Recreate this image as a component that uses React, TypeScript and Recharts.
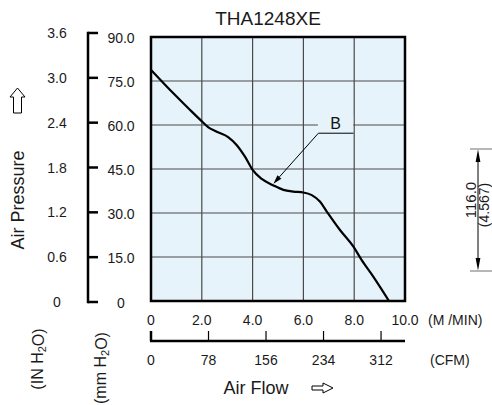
import React from 'react';
import { LineChart, Line, XAxis, YAxis, CartesianGrid, ReferenceArea, ReferenceLine } from 'recharts';

// ---- data ----
const flowMpm = [0, 0.88, 1.54, 2.02, 2.26, 2.59, 3.05, 3.37, 3.7, 4.0, 4.36, 4.82, 5.21, 5.6, 6.0, 6.33, 6.65, 6.92, 7.44, 7.97, 8.29, 8.75, 9.37];
const pressureMm = [78.8, 70.8, 65.1, 61.1, 59.2, 57.7, 55.8, 53.2, 49.2, 44.7, 41.6, 39.4, 37.9, 37.3, 37.0, 36.1, 33.9, 30.5, 24.2, 18.5, 14.0, 8.3, 0];
const mpmTicks = [0, 2, 4, 6, 8, 10];
const cfmTicks = [0, 78, 156, 234, 312];
const mmTicks = [0, 15, 30, 45, 60, 75, 90];
const inTicks = [0, 0.6, 1.2, 1.8, 2.4, 3.0, 3.6];
const CFM_AT_10_MPM = 344.5; // CFM value at the right edge of the plot (10.0 M/MIN)
const title = 'THA1248XE';
const curveLabel = 'B';
const dimValue = '116.0';
const dimInch = '(4.567)';

const data = flowMpm.map((f, i) => ({ flow: f, p: pressureMm[i] }));
const cfmTicksInMpm = cfmTicks.map((c) => (c * 10) / CFM_AT_10_MPM);

// ---- layout ----
const W = 492, H = 405;
const PL = 151, PT = 37, PR = 405, PB = 301;
const MM_AXIS_W = 63;
const BX = PL - MM_AXIS_W;
const M_AXIS_H = 40;
const CFM_Y = PB + M_AXIS_H;
const FONT = "'Liberation Sans', Arial, Helvetica, sans-serif";
const TXT = '#1a1a1a';
const BG = '#e6f3fb';
// the bracket axis and inch labels sit on a slightly taller span than the plot
const BR_TOP = 33, BR_BOT = 302;
const toBracket = (y: number) => BR_TOP + ((y - PT) * (BR_BOT - BR_TOP)) / (PB - PT);

const fmt1 = (v: number) => (v === 0 ? '0' : v.toFixed(1));

const MmTick = (props: any) => {
  const { y, payload } = props;
  const v = payload.value;
  const yb = toBracket(y);
  return (
    <g>
      <line x1={BX} x2={BX + 10} y1={yb} y2={yb} stroke="#000" strokeWidth={2.5} />
      {v === 0 && <line x1={BX} x2={BX} y1={BR_BOT + 1.25} y2={BR_TOP - 1.25} stroke="#000" strokeWidth={2.5} />}
      <text x={121} y={v === 0 ? y + 2 : y + 1} textAnchor="middle" dominantBaseline="central" fontSize={14} fontFamily={FONT} fill={TXT}>
        {fmt1(v)}
      </text>
    </g>
  );
};

const InTick = (props: any) => {
  const { y, payload } = props;
  const v = payload.value;
  return (
    <text x={57} y={toBracket(y)} textAnchor="middle" dominantBaseline="central" fontSize={14} fontFamily={FONT} fill={TXT}>
      {fmt1(v)}
    </text>
  );
};

const MTick = (props: any) => {
  const { x, payload } = props;
  const v = payload.value;
  return (
    <g>
      <text x={x} y={PB + 19} textAnchor="middle" dominantBaseline="central" fontSize={14} fontFamily={FONT} fill={TXT}>
        {fmt1(v)}
      </text>
      {v === 10 && (
        <text x={PR + 23} y={PB + 19} textAnchor="start" dominantBaseline="central" fontSize={14} fontFamily={FONT} fill={TXT}>
          (M /MIN)
        </text>
      )}
    </g>
  );
};

const CfmTick = (props: any) => {
  const { x, payload } = props;
  const cfm = Math.round((payload.value * CFM_AT_10_MPM) / 10);
  return (
    <g>
      {cfm === 0 && <line x1={PL - 1} x2={PR} y1={CFM_Y} y2={CFM_Y} stroke="#000" strokeWidth={2.5} />}
      <line x1={x} x2={x} y1={CFM_Y} y2={CFM_Y - 10} stroke="#000" strokeWidth={cfm === 0 ? 2.5 : 1.2} />
      <text x={x} y={CFM_Y + 19} textAnchor="middle" dominantBaseline="central" fontSize={14} fontFamily={FONT} fill={TXT}>
        {cfm}
      </text>
      {cfm === 312 && (
        <text x={PR + 25} y={CFM_Y + 19} textAnchor="start" dominantBaseline="central" fontSize={14} fontFamily={FONT} fill={TXT}>
          (CFM)
        </text>
      )}
    </g>
  );
};

const FlowLabel = () => (
  <g>
    <text x={256} y={388} textAnchor="middle" dominantBaseline="central" fontSize={18} fontFamily={FONT} fill={TXT}>
      Air Flow
    </text>
    <path d="M312,386 L323,386 L323,383 L333,388 L323,393 L323,390 L312,390 Z" fill="none" stroke="#000" strokeWidth={1} />
  </g>
);

const PressureLabel = () => (
  <g>
    <path d="M17.5,88 L25,97 L21.5,97 L21.5,113 L13.5,113 L13.5,97 L10,97 Z" fill="none" stroke="#000" strokeWidth={1} />
    <text x={17.5} y={200} transform="rotate(-90 17.5 200)" textAnchor="middle" dominantBaseline="central" fontSize={18} fontFamily={FONT} fill={TXT}>
      Air Pressure
    </text>
    <text x={37.5} y={359} transform="rotate(-90 37.5 359)" textAnchor="middle" dominantBaseline="central" fontSize={16} fontFamily={FONT} fill={TXT}>
      (IN H<tspan fontSize={11} dy={4}>2</tspan><tspan dy={-4}>O)</tspan>
    </text>
  </g>
);

const MmLabel = () => (
  <text x={100.5} y={368} transform="rotate(-90 100.5 368)" textAnchor="middle" dominantBaseline="central" fontSize={16} fontFamily={FONT} fill={TXT}>
    (mm H<tspan fontSize={11} dy={4}>2</tspan><tspan dy={-4}>O)</tspan>
  </text>
);

const ArrowLine = (props: any) => {
  const { x1, y1, x2, y2 } = props;
  const dx = x2 - x1, dy = y2 - y1;
  const len = Math.sqrt(dx * dx + dy * dy) || 1;
  const ux = dx / len, uy = dy / len;
  const hl = 9, hw = 2.6;
  const bx = x2 - ux * hl, by = y2 - uy * hl;
  const pts = `${x2},${y2} ${bx - uy * hw},${by + ux * hw} ${bx + uy * hw},${by - ux * hw}`;
  return (
    <g>
      <line x1={x1} y1={y1} x2={bx} y2={by} stroke="#000" strokeWidth={1} />
      <polygon points={pts} fill="#000" />
    </g>
  );
};

export default function App() {
  return (
    <div style={{ position: 'absolute', left: 0, top: 0, width: W, height: H, background: '#fff' }}>
      <LineChart width={W} height={H} data={data} margin={{ top: PT, right: W - PR, bottom: 0, left: 0 }}>
        <CartesianGrid xAxisId="m" yAxisId="mm" stroke="#4a4a4a" strokeWidth={1.2} fill={BG} fillOpacity={1} />
        <XAxis
          xAxisId="m"
          dataKey="flow"
          type="number"
          domain={[0, 10]}
          ticks={mpmTicks}
          allowDataOverflow
          axisLine={false}
          tickLine={false}
          height={M_AXIS_H}
          tick={(p: any) => <MTick {...p} />}
        />
        <XAxis
          xAxisId="cfm"
          dataKey="flow"
          type="number"
          domain={[0, 10]}
          ticks={cfmTicksInMpm}
          interval={0}
          allowDataOverflow
          axisLine={false}
          tickLine={false}
          height={H - PB - M_AXIS_H}
          tick={(p: any) => <CfmTick {...p} />}
          label={<FlowLabel />}
        />
        <YAxis
          yAxisId="mm"
          type="number"
          domain={[0, 90]}
          ticks={mmTicks}
          allowDataOverflow
          axisLine={false}
          tickLine={false}
          width={MM_AXIS_W}
          tick={(p: any) => <MmTick {...p} />}
          label={<MmLabel />}
        />
        <YAxis
          yAxisId="in"
          type="number"
          domain={[0, 3.6]}
          ticks={inTicks}
          allowDataOverflow
          axisLine={false}
          tickLine={false}
          width={PL - MM_AXIS_W}
          tick={(p: any) => <InTick {...p} />}
          label={<PressureLabel />}
        />
        <ReferenceArea
          xAxisId="m"
          yAxisId="mm"
          x1={6.57}
          x2={7.96}
          y1={58.0}
          y2={63.1}
          fill={BG}
          fillOpacity={1}
          stroke="none"
          label={{ value: curveLabel, position: 'center', fontSize: 16, fill: '#111', fontFamily: FONT }}
        />
        <ReferenceLine
          xAxisId="m"
          yAxisId="mm"
          segment={[{ x: 6.59, y: 57.2 }, { x: 7.97, y: 57.2 }]}
          stroke="#000"
          strokeWidth={1}
        />
        <ReferenceLine
          xAxisId="m"
          yAxisId="mm"
          segment={[{ x: 6.59, y: 57.2 }, { x: 4.82, y: 40.0 }]}
          shape={(p: any) => <ArrowLine {...p} />}
        />
        <Line
          xAxisId="m"
          yAxisId="mm"
          dataKey="p"
          type="monotone"
          stroke="#000"
          strokeWidth={2.2}
          dot={false}
          isAnimationActive={false}
        />
        <ReferenceArea
          xAxisId="m"
          yAxisId="mm"
          x1={0}
          x2={10}
          y1={0}
          y2={90}
          fill="none"
          fillOpacity={0}
          stroke="#000"
          strokeWidth={2.5}
          ifOverflow="visible"
        />
      </LineChart>
      <svg width={W} height={H} style={{ position: 'absolute', left: 0, top: 0, pointerEvents: 'none' }}>
        <text x={268} y={18} textAnchor="middle" dominantBaseline="central" fontSize={19} fontFamily={FONT} fill={TXT}>
          {title}
        </text>
        <line x1={470} x2={492} y1={149} y2={149} stroke="#888" strokeWidth={1.2} />
        <line x1={470} x2={492} y1={271} y2={271} stroke="#888" strokeWidth={1.2} />
        <line x1={478} x2={478} y1={160} y2={260} stroke="#000" strokeWidth={1} />
        <polygon points="478,149.6 475.6,162 480.4,162" fill="#000" />
        <polygon points="478,270.4 475.6,258 480.4,258" fill="#000" />
        <text x={470} y={200} transform="rotate(-90 470 200)" textAnchor="middle" dominantBaseline="central" fontSize={15} fontFamily={FONT} fill={TXT}>
          {dimValue}
        </text>
        <text x={484} y={205} transform="rotate(-90 484 205)" textAnchor="middle" dominantBaseline="central" fontSize={14} fontFamily={FONT} fill={TXT}>
          {dimInch}
        </text>
      </svg>
    </div>
  );
}
